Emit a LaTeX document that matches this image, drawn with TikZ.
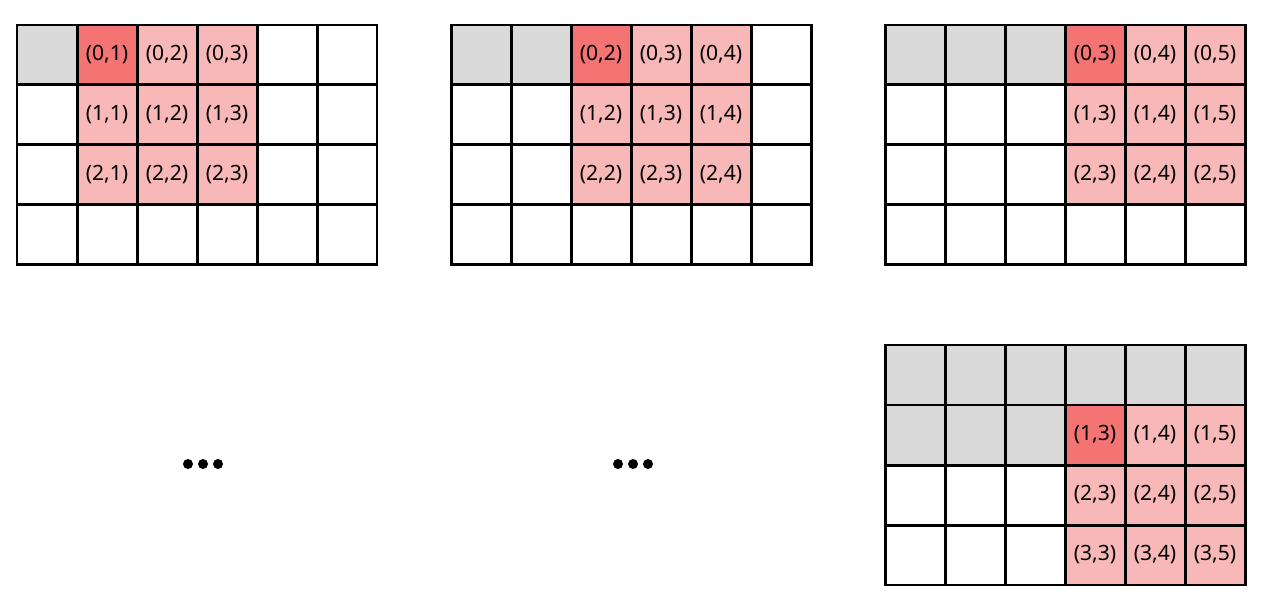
\documentclass[tikz,border=0pt]{standalone}
\usepackage{fontspec}
\setmainfont{Noto Sans}

\definecolor{donegray}{HTML}{D9D9D9}
\definecolor{anchorred}{HTML}{F47373}
\definecolor{windowpink}{HTML}{F8B8B8}

\tikzset{
    cell/.style={draw, line width=1.7pt, minimum size=1.2cm, inner sep=0pt,
        font=\fontsize{12}{14}\selectfont},
    emptycell/.style={fill=white},
    donecell/.style={fill=donegray},
    anchorcell/.style={fill=anchorred},
    windowcell/.style={fill=windowpink},
    dot/.style={circle, fill=black, minimum size=0.2cm, inner sep=0pt}
}

% one 4x6 panel: name, left x, top y, row and column of the window corner
\newcommand{\slidepanel}[5]{%
    \foreach \r in {0,...,3} {
        \foreach \c in {0,...,5} {
            \pgfmathtruncatemacro{\idx}{\r*6+\c}
            \pgfmathtruncatemacro{\start}{#4*6+#5}
            \pgfmathtruncatemacro{\inwin}{and(and(\r>=#4,\r<=#4+2),and(\c>=#5,\c<=#5+2))}
            \ifnum\idx=\start
                \def\kind{anchorcell}\def\lbl{(\r,\c)}
            \else\ifnum\inwin=1
                \def\kind{windowcell}\def\lbl{(\r,\c)}
            \else\ifnum\idx<\start
                \def\kind{donecell}\def\lbl{}
            \else
                \def\kind{emptycell}\def\lbl{}
            \fi\fi\fi
            \node[cell, \kind] (#1-\r-\c) at (#2+30+60*\c, #3+30+60*\r) {\lbl};
        }
    }
}

\begin{document}
\begin{tikzpicture}[x=0.02cm, y=-0.02cm]

    \useasboundingbox (0,0) rectangle (1273,614);

    % Top row of panels
    \slidepanel{pa}{17}{25}{0}{1}
    \slidepanel{pb}{451}{25}{0}{2}
    \slidepanel{pc}{885}{25}{0}{3}

    % Bottom right panel
    \slidepanel{pd}{885}{345}{1}{3}

    % Ellipses
    \foreach \i/\x in {1/188, 2/203, 3/218} {
        \node[dot] (dotsa\i) at (\x,464) {};
        \node[dot] (dotsb\i) at (\x+430,464) {};
    }

\end{tikzpicture}
\end{document}
